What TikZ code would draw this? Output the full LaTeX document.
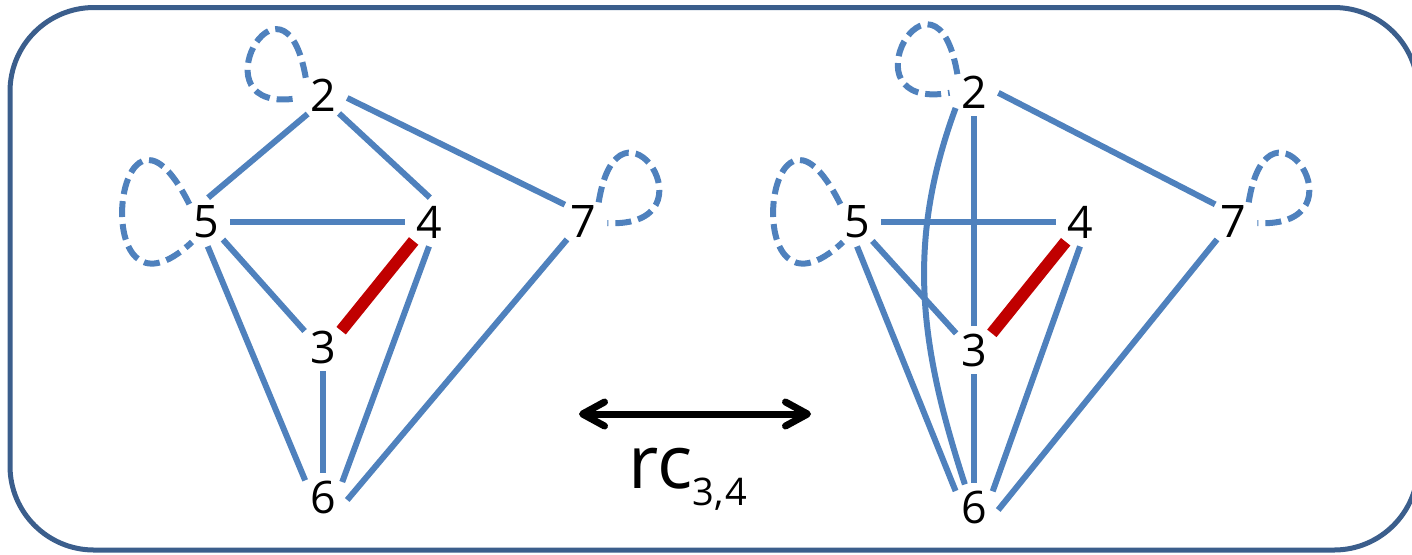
\documentclass[tikz,border=0pt]{standalone}
\usepackage{fontspec}
\setmainfont{Open Sans}
\usetikzlibrary{arrows.meta}
\definecolor{edgeblue}{HTML}{4F81BD}
\definecolor{edgered}{HTML}{C00000}
\definecolor{framecol}{HTML}{3B5E8C}
\begin{document}
\begin{tikzpicture}[x=0.5pt,y=-0.5pt,
  vtx/.style={circle,minimum size=24pt,inner sep=0pt,font=\fontsize{22.4}{26}\selectfont},
  edge/.style={edgeblue,line width=3pt},
  redge/.style={edgered,line width=6pt},
  loopedge/.style={edgeblue,line width=3pt,dash pattern=on 8pt off 3.5pt},
  frame/.style={framecol,line width=2.5pt,rounded corners=42pt}]
\useasboundingbox (0,0) rectangle (1412,554);
\draw[frame] (10,7.5) rectangle (1418,550);

% left graph
\node[vtx] (l2) at (323,95) {2};
\node[vtx] (l5) at (206,222) {5};
\node[vtx] (l4) at (429,222) {4};
\node[vtx] (l7) at (583,221) {7};
\node[vtx] (l3) at (323,347) {3};
\node[vtx] (l6) at (323,497) {6};

\draw[edge] (l2.231) -- (l5.85);
\draw[edge] (l2.311) -- (l4.88);
\draw[edge] (l2.353) -- (l7.138);
\draw[edge] (l5.0) -- (l4.180);
\draw[edge] (l5.314) -- (l3.139);
\draw[edge] (l5.274) -- (l6.137);
\draw[edge] (l4.270) -- (l6.38);
\draw[edge] (l3.270) -- (l6.90);
\draw[edge] (l7.229) -- (l6.353);
\draw[redge] (l3.42) -- (l4.231);

\draw[loopedge] (l2.135) .. controls +(-22,-128) and +(-108,19) .. (l2.187);
\draw[loopedge] (l5.133) .. controls +(-75,-150) and +(-107,100) .. (l5.235);
\draw[loopedge] (l7.50) .. controls +(20,-125) and +(112,5) .. (l7.-5);

% right graph
\node[vtx] (r2) at (974,92) {2};
\node[vtx] (r5) at (857,222) {5};
\node[vtx] (r4) at (1080,222) {4};
\node[vtx] (r7) at (1233,221) {7};
\node[vtx] (r3) at (974,350) {3};
\node[vtx] (r6) at (974,507) {6};

\draw[edge] (r2.358) -- (r7.137);
\draw[edge] (r2.270) -- (r3.90);
\draw[edge] (r2.221) .. controls +(-50,136) and +(-45,-138) .. (r6.112);
\draw[edge] (r5.0) -- (r4.180);
\draw[edge] (r5.309) -- (r3.137);
\draw[edge] (r5.270) -- (r6.139);
\draw[edge] (r4.270) -- (r6.40);
\draw[edge] (r3.270) -- (r6.90);
\draw[edge] (r7.229) -- (r6.353);
\draw[redge] (r3.43) -- (r4.234);

\draw[loopedge] (r2.133) .. controls +(-22,-130) and +(-110,19) .. (r2.182);
\draw[loopedge] (r5.133) .. controls +(-75,-150) and +(-107,100) .. (r5.235);
\draw[loopedge] (r7.50) .. controls +(20,-125) and +(112,5) .. (r7.-5);

% middle arrow and label
\coordinate (al) at (579,414);
\coordinate (ar) at (811,414);
\draw[black,line width=3.5pt,{Straight Barb[length=11pt,width=12pt,round]}-{Straight Barb[length=11pt,width=12pt,round]}] (al) -- (ar);
\node[anchor=base west,inner sep=0pt,font=\fontsize{37}{40}\selectfont] (lab) at (628,488)
  {rc\raisebox{-8.5pt}{\fontsize{19}{22}\selectfont 3,\hspace{1pt}4}};
\end{tikzpicture}
\end{document}
